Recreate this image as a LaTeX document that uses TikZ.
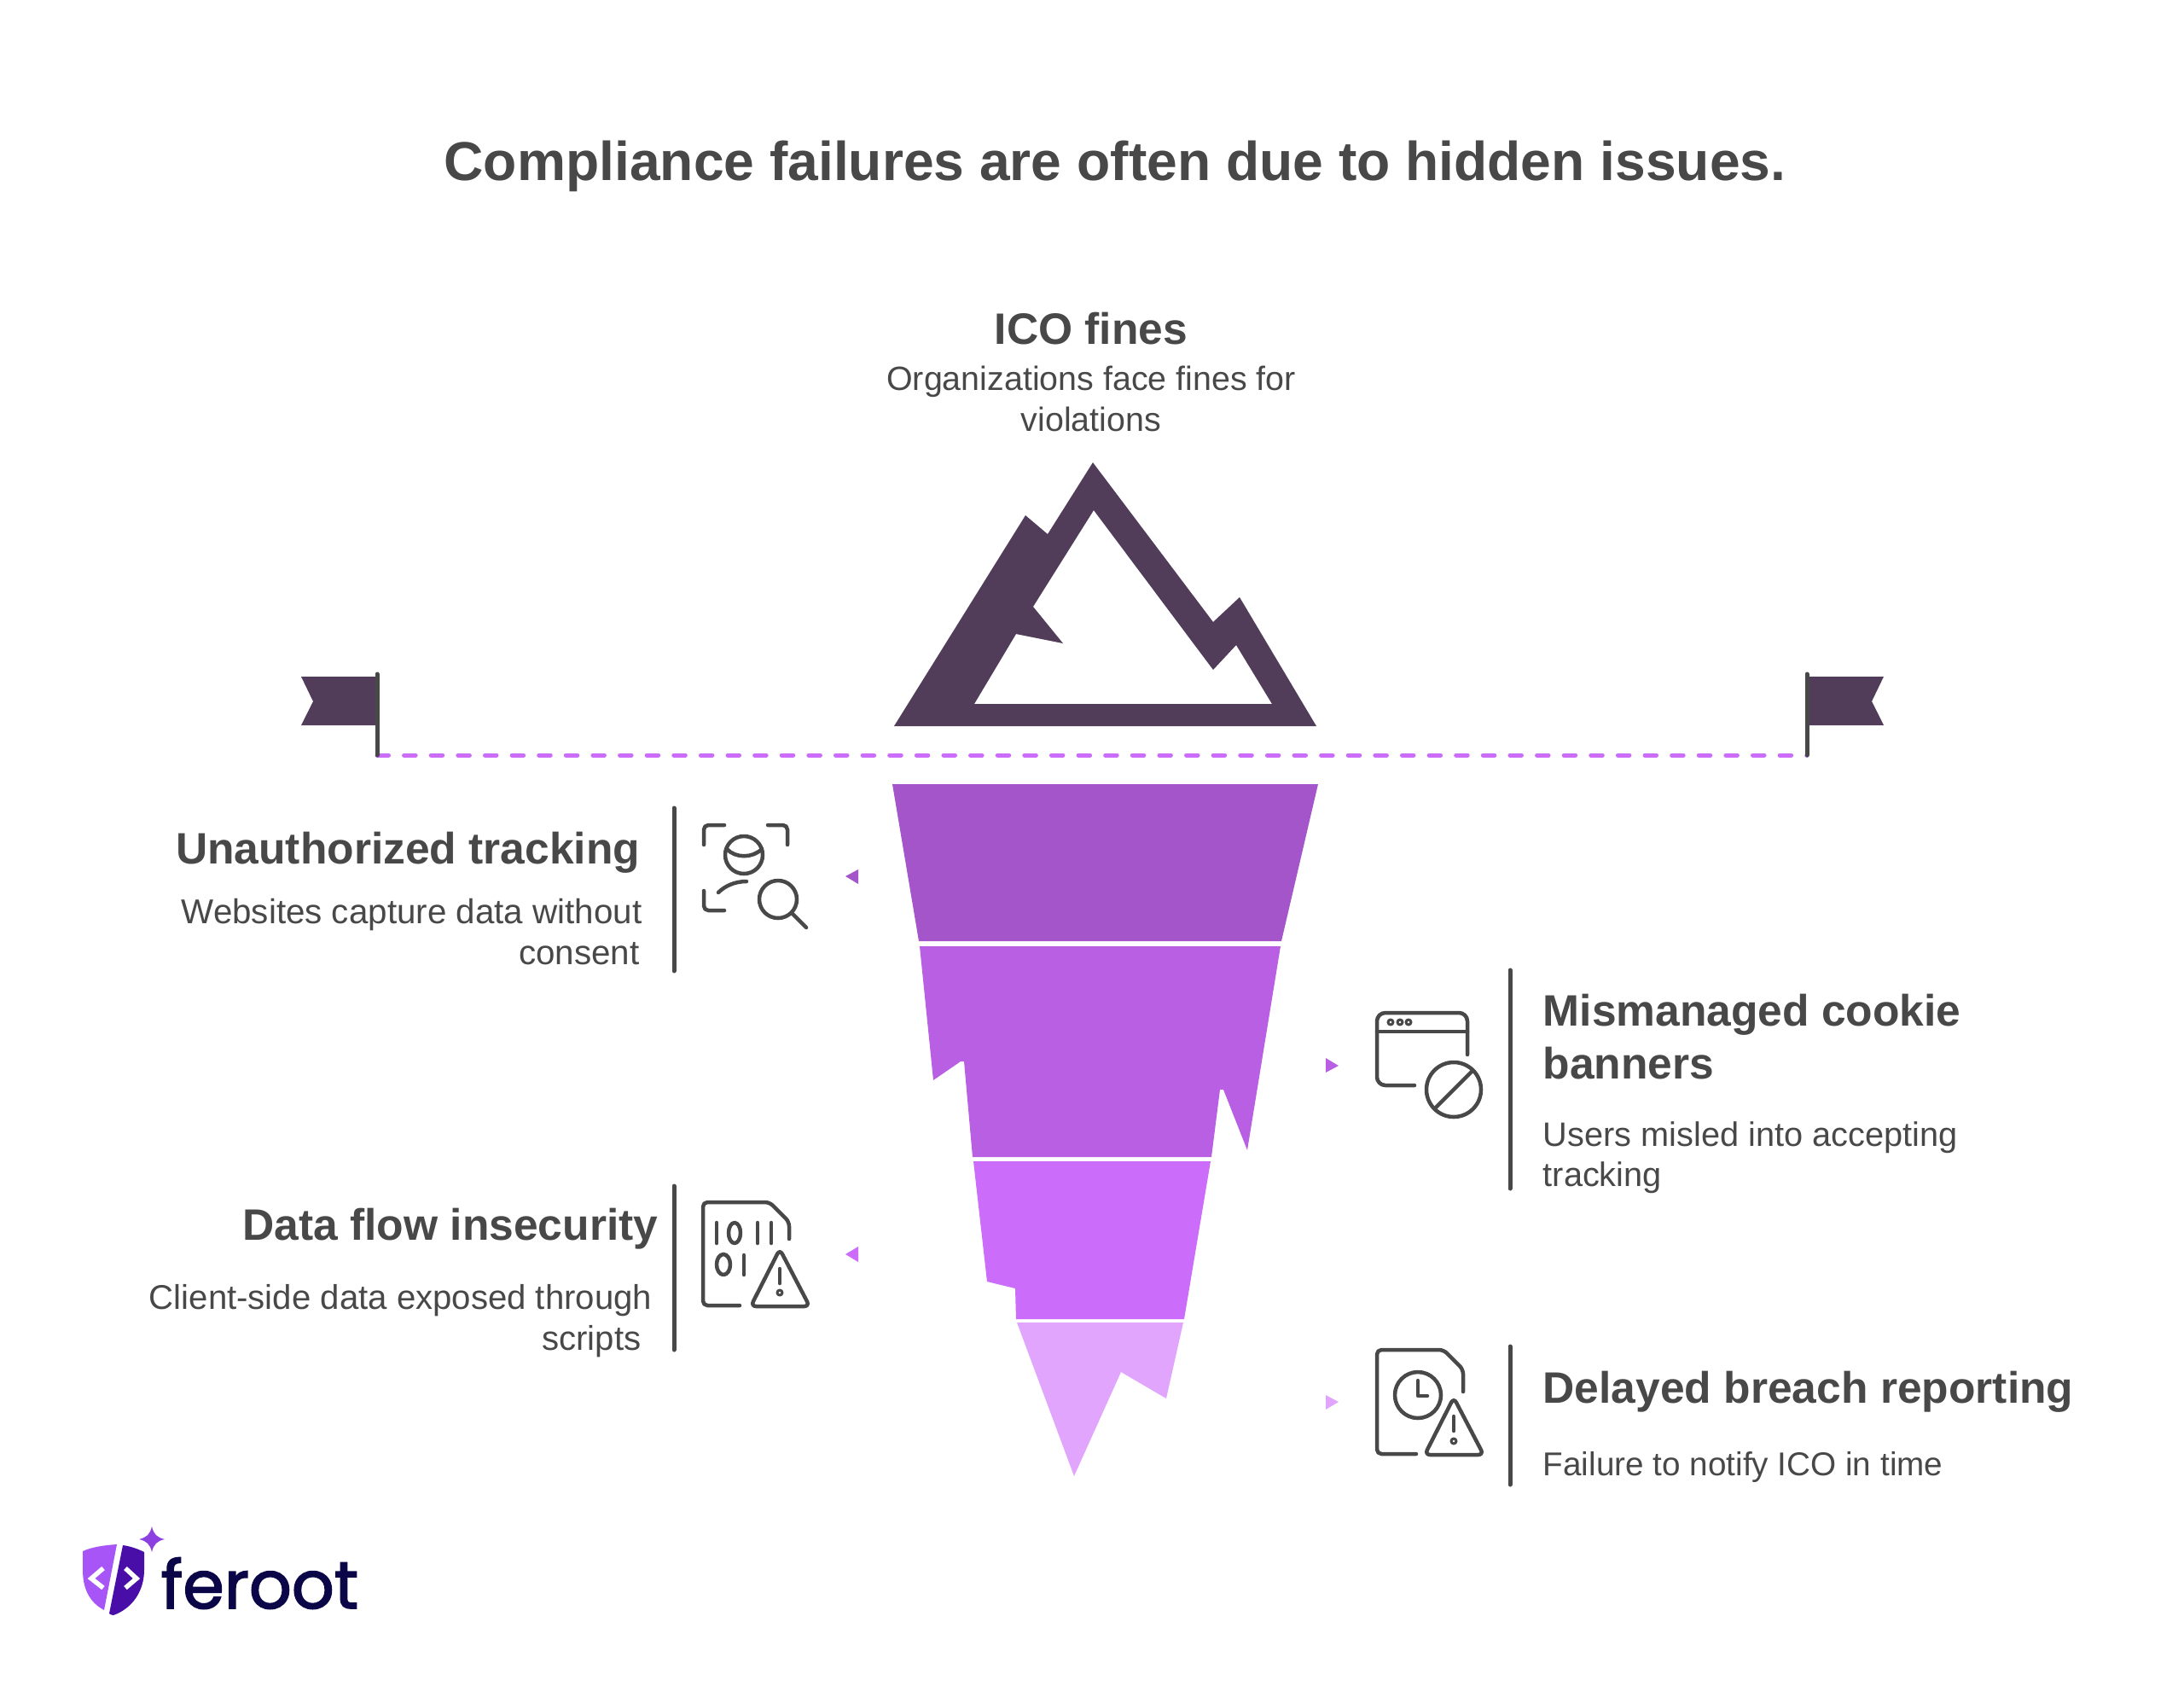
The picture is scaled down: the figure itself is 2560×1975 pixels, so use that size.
\documentclass[tikz,border=0pt]{standalone}
\usepackage{fontspec}
\usepackage{tikz}
\usetikzlibrary{positioning}
\setmainfont{Liberation Sans}
\newfontfamily\logofont[FakeBold=2]{Poppins}
\definecolor{gris}{HTML}{484848}
\definecolor{monte}{HTML}{513D59}
\definecolor{capauno}{HTML}{A555CA}
\definecolor{capados}{HTML}{B85FE4}
\definecolor{capatres}{HTML}{CB6CFA}
\definecolor{capacuatro}{HTML}{E1A5FE}
\definecolor{azul}{HTML}{0B0647}
\definecolor{escudouno}{HTML}{A855F7}
\definecolor{escudodos}{HTML}{4A0EA8}
\tikzset{icono/.style={draw=gris,line width=0.045cm,line cap=round,line join=round}}
\tikzset{barra/.style={draw=gris,line width=0.05cm,line cap=round}}
\tikzset{cabeza/.style={inner sep=0pt,text=gris,font=\fontsize{14.66}{17.6}\selectfont\bfseries}}
\tikzset{cuerpo/.style={inner sep=0pt,text=gris,font=\fontsize{11.1}{13.5}\selectfont}}
\begin{document}
\begin{tikzpicture}[x=0.01cm,y=-0.01cm]
            \useasboundingbox (0,0) rectangle (2560,1975);

            \node[inner sep=0pt,text=gris,font=\fontsize{18.25}{20}\selectfont\bfseries] (titulo) at (1307,195) {Compliance failures are often due to hidden issues.};
            \node[cabeza] (fines) at (1279,385) {ICO fines};
            \node[cuerpo,font=\fontsize{11.2}{13.5}\selectfont,align=center,below=2.4mm of fines] (finesd) {Organizations face fines for\\violations};

            % monte
            \fill[monte,even odd rule] (1048,851) -- (1202,604) -- (1228,626) -- (1281,542) -- (1422,729) -- (1453,700) -- (1543,851) -- cycle
                (1142,825) -- (1191,743) -- (1246,754) -- (1211,711) -- (1282,598) -- (1422,785) -- (1449,756) -- (1491,825) -- cycle;

            % banderas
            \fill[monte] (353,793) -- (441,793) -- (441,850) -- (353,850) -- (367,822) -- cycle;
            \fill[monte] (2208,793) -- (2118,793) -- (2118,850) -- (2208,850) -- (2194,822) -- cycle;
            \coordinate (linea1) at (442,885);
            \coordinate (linea2) at (2118,885);
            \draw[capatres,line width=0.05cm,line cap=round,dash pattern=on 0.135cm off 0.181cm] (linea1) -- (linea2);
            \draw[barra] (442,790) -- (linea1);
            \draw[barra] (2118,790) -- (linea2);

            % capas
            \fill[capauno] (1046,919) -- (1545,919) -- (1502,1103) -- (1077,1103) -- cycle;
            \fill[capados] (1078,1109) -- (1501,1109) -- (1462,1348) -- (1434,1277) -- (1430,1277) -- (1420,1356) -- (1140,1356) -- (1130,1244) -- (1126,1244) -- (1094,1266) -- cycle;
            \fill[capatres] (1141,1361) -- (1419,1361) -- (1388,1546) -- (1191,1546) -- (1190,1510) -- (1157,1502) -- cycle;
            \fill[capacuatro] (1192,1550) -- (1387,1550) -- (1367,1639) -- (1314,1608) -- (1259,1730) -- cycle;

            % marcas
            \fill[capauno] (991,1027) -- (1006,1019) -- (1006,1036) -- cycle;
            \fill[capatres] (991,1470) -- (1006,1461) -- (1006,1479) -- cycle;
            \fill[capados] (1554,1240) -- (1554,1257) -- (1569,1249) -- cycle;
            \fill[capacuatro] (1554,1635) -- (1554,1652) -- (1569,1643) -- cycle;

            % rastreo
            \draw[barra] (790,947) -- (790,1138);
            \node[cabeza,anchor=east] (track) at (751,999) {Unauthorized tracking};
            \node[cuerpo,font=\fontsize{11.47}{13.5}\selectfont,align=right,below=2.9mm of track.south east,anchor=north east,xshift=0.2mm] (trackd) {Websites capture data without\\consent\hspace*{0.3mm}};
            \draw[icono,rounded corners=1.5pt] (849,967) -- (825,967) -- (825,990);
            \draw[icono,rounded corners=1.5pt] (900,967) -- (923,967) -- (923,990);
            \draw[icono,rounded corners=1.5pt] (825,1044) -- (825,1067) -- (849,1067);
            \draw[icono] (872,1002) circle (22);
            \draw[icono] (852,995) .. controls (862,1006) and (882,1006) .. (893,995);
            \draw[icono] (842,1046) .. controls (850,1038) and (862,1033) .. (875,1033);
            \draw[icono] (912,1054) circle (22);
            \draw[icono] (928,1070) -- (945,1087);

            % datos
            \draw[barra] (790,1390) -- (790,1582);
            \node[cabeza,anchor=east] (datos) at (772,1440) {Data flow insecurity};
            \node[cuerpo,font=\fontsize{11.42}{13.5}\selectfont,align=right,below=4mm of datos.south east,anchor=north east,xshift=-0.7mm] (datosd) {Client-side data exposed through\\scripts\hspace*{1.3mm}};
            \draw[icono,rounded corners=1.5pt] (867,1530) -- (824,1530) -- (824,1409) -- (902,1409) -- (925,1432) -- (925,1452);
            \draw[icono] (840,1433) -- (840,1457) (888,1433) -- (888,1457) (904,1433) -- (904,1457) (872,1471) -- (872,1494);
            \draw[icono] (861,1445) ellipse (7 and 12);
            \draw[icono] (848,1482) ellipse (8 and 12);
            \draw[icono,rounded corners=1.8pt] (914,1464) -- (949,1531) -- (880,1531) -- cycle;
            \draw[icono] (914,1487) -- (914,1504);
            \draw[icono,line width=0.03cm] (914,1515) circle (3);

            % cookies
            \draw[barra] (1770,1137) -- (1770,1393);
            \node[cabeza,align=left,anchor=west] (cookie) at (1808,1215) {Mismanaged cookie\\banners};
            \node[cuerpo,font=\fontsize{11.3}{13.5}\selectfont,align=left,below=4.8mm of cookie.south west,anchor=north west] (cookied) {Users misled into accepting\\tracking};
            \draw[icono,rounded corners=2.8pt] (1658,1272) -- (1614,1272) -- (1614,1187) -- (1720,1187) -- (1720,1236);
            \draw[icono] (1614,1209) -- (1720,1209);
            \foreach \i in {1630,1641,1651} \draw[icono,line width=0.03cm] (\i,1198) circle (3);
            \draw[icono] (1704,1277) circle (32);
            \draw[icono] (1683,1298) -- (1725,1256);

            % aviso
            \draw[barra] (1770,1578) -- (1770,1740);
            \node[cabeza,anchor=west] (aviso) at (1808,1631) {Delayed breach reporting};
            \node[cuerpo,font=\fontsize{11}{13.5}\selectfont,below=4.5mm of aviso.south west,anchor=north west] (avisod) {Failure to notify ICO in time};
            \draw[icono,rounded corners=1.5pt] (1660,1704) -- (1614,1704) -- (1614,1582) -- (1692,1582) -- (1715,1605) -- (1715,1631);
            \draw[icono] (1662,1635) circle (27);
            \draw[icono] (1662,1618) -- (1662,1636) -- (1673,1636);
            \draw[icono,rounded corners=1.8pt] (1704,1638) -- (1739,1705) -- (1670,1705) -- cycle;
            \draw[icono] (1704,1660) -- (1704,1677);
            \draw[icono,line width=0.03cm] (1704,1689) circle (3);

            % logo
            \fill[escudouno] (137,1810) .. controls (122,1811) and (108,1813) .. (97,1818) -- (97,1840) .. controls (97,1862) and (105,1878) .. (122,1887) -- cycle;
            \fill[escudodos] (144,1811) .. controls (152,1812) and (161,1815) .. (169,1819) -- (169,1840) .. controls (169,1865) and (155,1885) .. (133,1893) .. controls (131,1893) and (129,1892) .. (128,1891) -- cycle;
            \draw[white,line width=0.055cm] (121,1838) -- (107,1850) -- (121,1861);
            \draw[white,line width=0.055cm] (147,1838) -- (160,1850) -- (147,1861);
            \fill[escudouno!70!escudodos] (178,1789) .. controls (180,1798) and (184,1802) .. (193,1804) .. controls (184,1806) and (180,1810) .. (178,1819) .. controls (176,1810) and (172,1806) .. (163,1804) .. controls (172,1802) and (176,1798) .. (178,1789) -- cycle;
            \node[inner sep=0pt,anchor=base west,text=azul,font=\logofont\fontsize{22.2}{24}\selectfont] (logo) at (188,1885) {feroot};
\end{tikzpicture}
\end{document}
